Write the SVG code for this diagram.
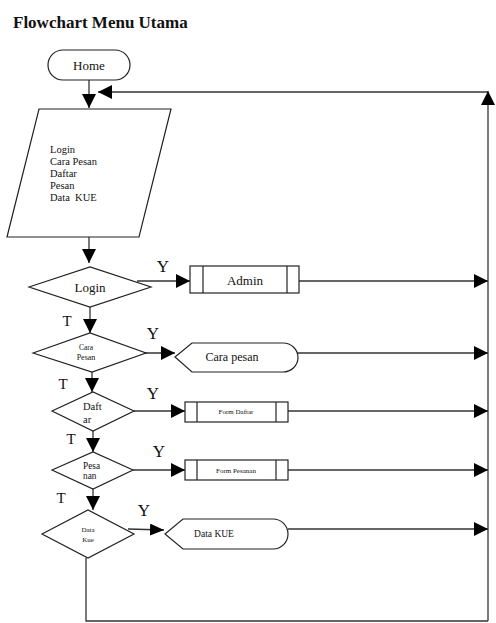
<svg xmlns="http://www.w3.org/2000/svg" width="496" height="623" viewBox="0 0 496 623">
<style>
  .s{fill:#fff;stroke:#222;stroke-width:1.2}
  .c{fill:none;stroke:#333;stroke-width:1.3}
  text{font-family:"Liberation Serif","Times New Roman",serif;fill:#111}
  .m{text-anchor:middle}
</style>
<defs>
  <marker id="ah" viewBox="0 0 14 14" refX="14" refY="7" markerWidth="14" markerHeight="14" markerUnits="userSpaceOnUse" orient="auto">
    <path d="M0,0 L14,7 L0,14 z" fill="#000"/>
  </marker>
  <marker id="ahs" viewBox="0 0 14 12" refX="14" refY="6" markerWidth="14" markerHeight="12" markerUnits="userSpaceOnUse" orient="auto">
    <path d="M0,0 L14,6 L0,12 z" fill="#000"/>
  </marker>
</defs>
<rect width="496" height="623" fill="#fff"/>
<text x="13" y="28" font-size="17" font-weight="bold">Flowchart Menu Utama</text>

<g id="connectors">
  <path class="c" d="M89,80 L89,108" marker-end="url(#ah)"/>
  <path class="c" d="M488,92 L98,92" marker-end="url(#ah)"/>
  <path class="c" d="M488,621 L488,91" marker-end="url(#ah)"/>
  <path class="c" d="M89,237 L89,263" marker-end="url(#ah)"/>
  <path class="c" d="M137,281 L190,281" marker-end="url(#ah)"/>
  <path class="c" d="M299,281 L488,281" marker-end="url(#ah)"/>
  <path class="c" d="M90,307 L90,333" marker-end="url(#ah)"/>
  <path class="c" d="M140,353 L175,353" marker-end="url(#ah)"/>
  <path class="c" d="M298,353 L488,353" marker-end="url(#ah)"/>
  <path class="c" d="M92,372 L92,392" marker-end="url(#ah)"/>
  <path class="c" d="M134,411 L185,411" marker-end="url(#ah)"/>
  <path class="c" d="M288,411 L488,411" marker-end="url(#ah)"/>
  <path class="c" d="M93,431 L93,452" marker-end="url(#ah)"/>
  <path class="c" d="M133,470 L185,470" marker-end="url(#ah)"/>
  <path class="c" d="M288,470 L488,470" marker-end="url(#ah)"/>
  <path class="c" d="M93,489 L93,510" marker-end="url(#ah)"/>
  <path class="c" d="M128,529 L164,530" marker-end="url(#ahs)"/>
  <path class="c" d="M288,529 L488,529" marker-end="url(#ah)"/>
  <path class="c" d="M86,558 L86,621 L488,621"/>
  <text x="163" y="272" font-size="17" class="m">Y</text>
  <text x="153" y="339" font-size="17" class="m">Y</text>
  <text x="153" y="399" font-size="17" class="m">Y</text>
  <text x="159" y="457" font-size="17" class="m">Y</text>
  <text x="144" y="516" font-size="17" class="m">Y</text>
  <text x="67" y="326" font-size="15" class="m">T</text>
  <text x="63" y="389" font-size="15" class="m">T</text>
  <text x="71" y="444" font-size="15" class="m">T</text>
  <text x="61" y="503" font-size="15" class="m">T</text>
</g>

<g id="home">
  <rect class="s" x="48" y="50" width="82" height="30" rx="15"/>
  <text x="89" y="70" font-size="13" class="m">Home</text>
</g>

<g id="menu-input">
  <polygon class="s" points="39,109 171,109 139,237 7,237"/>
  <text x="50" y="153" font-size="10.5">Login</text>
  <text x="50" y="165" font-size="10.5">Cara Pesan</text>
  <text x="50" y="177" font-size="10.5">Daftar</text>
  <text x="50" y="189" font-size="10.5">Pesan</text>
  <text x="50" y="201" font-size="10.5" xml:space="preserve">Data  KUE</text>
</g>

<g id="login-decision">
  <polygon class="s" points="29,287 90,267 151,287 90,307"/>
  <text x="90" y="292" font-size="13" class="m">Login</text>
</g>

<g id="admin">
  <rect class="s" x="190" y="266" width="109" height="27"/>
  <line class="s" x1="203" y1="266" x2="203" y2="293"/>
  <line class="s" x1="287" y1="266" x2="287" y2="293"/>
  <text x="245" y="285" font-size="13" class="m">Admin</text>
</g>

<g id="carapesan-decision">
  <polygon class="s" points="33,353 90,333 146,353 92,372"/>
  <text x="86" y="350" font-size="7.5" class="m">Cara</text>
  <text x="86" y="360" font-size="8" class="m">Pesan</text>
</g>

<g id="carapesan">
  <path class="s" d="M175,357 L192,343 L283,343 A15,14.5 0 0 1 283,372 L192,372 Z"/>
  <text x="232" y="361" font-size="12" class="m">Cara pesan</text>
</g>

<g id="daftar-decision">
  <polygon class="s" points="52,411 93,392 134,411 93,431"/>
  <text x="83" y="410" font-size="10.5">Daft</text>
  <text x="83" y="423" font-size="10.5">ar</text>
</g>

<g id="form-daftar">
  <rect class="s" x="185" y="402" width="103" height="20"/>
  <line class="s" x1="197" y1="402" x2="197" y2="422"/>
  <line class="s" x1="276" y1="402" x2="276" y2="422"/>
  <text x="236" y="414" font-size="7" class="m">Form Daftar</text>
</g>

<g id="pesanan-decision">
  <polygon class="s" points="52,470 93,452 133,470 93,489"/>
  <text x="83" y="469" font-size="9.3">Pesa</text>
  <text x="83" y="479" font-size="9.3">nan</text>
</g>

<g id="form-pesanan">
  <rect class="s" x="185" y="460" width="103" height="20"/>
  <line class="s" x1="197" y1="460" x2="197" y2="480"/>
  <line class="s" x1="276" y1="460" x2="276" y2="480"/>
  <text x="236" y="473" font-size="7" class="m">Form Pesanan</text>
</g>

<g id="datakue-decision">
  <polygon class="s" points="42,534 88,510 134,534 88,558"/>
  <text x="88" y="532" font-size="7" class="m">Data</text>
  <text x="88" y="542" font-size="7" class="m">Kue</text>
</g>

<g id="datakue">
  <path class="s" d="M165,534 L183,519 L273,519 A15,15 0 0 1 273,549 L183,549 Z"/>
  <text x="214" y="537" font-size="9.5" class="m">Data KUE</text>
</g>
</svg>
